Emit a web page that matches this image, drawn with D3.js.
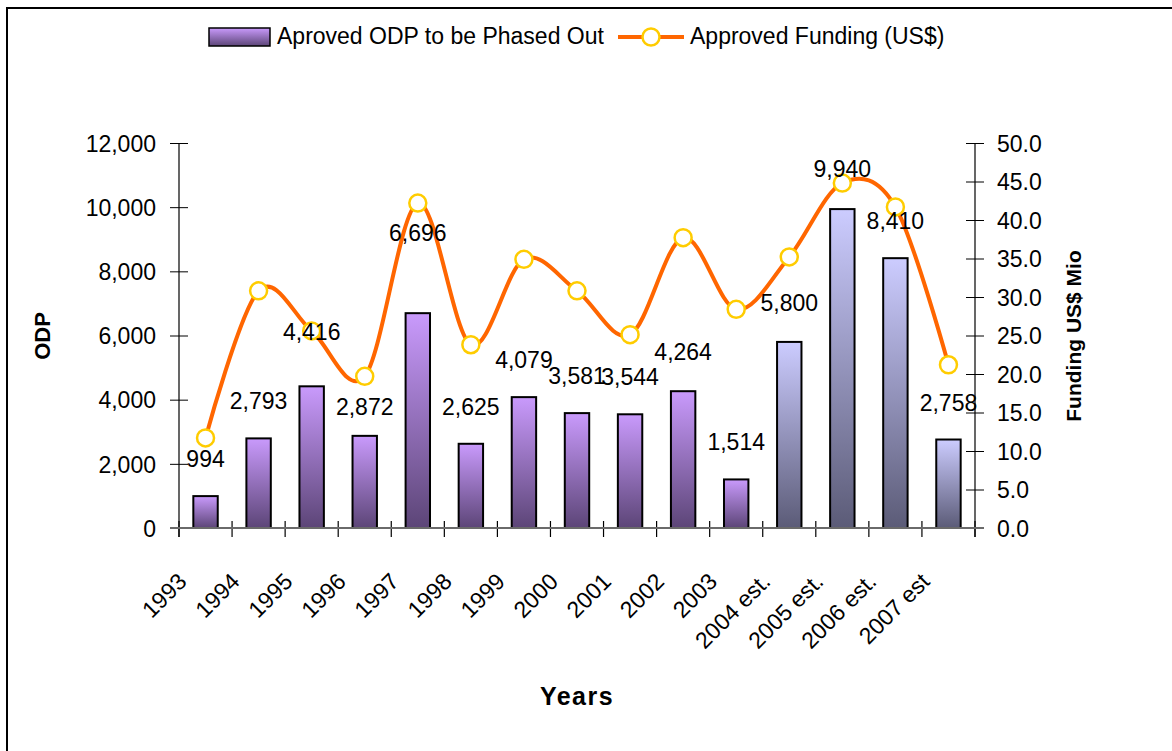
<!DOCTYPE html>
<html>
<head>
<meta charset="utf-8">
<script src="https://cdn.jsdelivr.net/npm/d3@7"></script>
<style>
	body { margin: 0; background: #fff; }
	text { font-family: "Liberation Sans", Arial, sans-serif; fill: #000; }
</style>
</head>
<body>
<div id="chart"></div>
<script>
// DATA ------------------------------------------------------------
var years = ["1993", "1994", "1995", "1996", "1997", "1998", "1999", "2000",
	"2001", "2002", "2003", "2004 est.", "2005 est.", "2006 est.", "2007 est"];
var odp = [994, 2793, 4416, 2872, 6696, 2625, 4079, 3581, 3544, 4264, 1514, 5800, 9940, 8410, 2758];
var funding = [11.7, 30.8, 25.6, 19.7, 42.2, 23.8, 34.9, 30.8, 25.1, 37.7, 28.4, 35.2, 44.8, 41.7, 21.2];
var estimated = [false, false, false, false, false, false, false, false, false, false, false, true, true, true, true];
var odpTicks = [0, 2000, 4000, 6000, 8000, 10000, 12000];
var fundTicks = [0, 5, 10, 15, 20, 25, 30, 35, 40, 45, 50];

// label nudges (px), the reference moved a few labels by hand
var labelShift = [0, 0, -17, 8, -43, 0, 0, 0, 0, -2, 0, -2, -3, 0, 0];

// SVG VARIABLES ------------------------------------------------------------
var width = 1172, height = 751;
var plot = {left: 179, right: 975, top: 143, bottom: 528};

var colors = {
	'line': '#ff6600',
	'marker': '#ffcc00',
	'axis': '#000000'
};

var svg = d3.select("#chart")
	.append("svg")
	.attr("width", width)
	.attr("height", height);

// gradients for the bars
var defs = svg.append("defs");
function addGradient(id, top, bottom) {
	var g = defs.append("linearGradient")
		.attr("id", id)
		.attr("x1", 0).attr("y1", 0)
		.attr("x2", 0).attr("y2", 1);
	g.append("stop").attr("offset", "0%").attr("stop-color", top);
	g.append("stop").attr("offset", "100%").attr("stop-color", bottom);
}
addGradient("gradPurple", "#c99afc", "#5c4577");
addGradient("gradBlue", "#ccccff", "#5b5b77");

// frame
svg.append("rect")
	.attr("x", 7).attr("y", 8)
	.attr("width", 1200).attr("height", 800)
	.style("fill", "none")
	.style("stroke", "#000")
	.style("stroke-width", 2);

// SCALES ------------------------------------------------------------
var xBand = d3.scaleBand()
	.domain(years)
	.range([plot.left, plot.right]);

var x = d3.scaleBand()
	.domain(years)
	.range([plot.left, plot.right])
	.paddingInner(0.54)
	.paddingOuter(0.27);

var yLeft = d3.scaleLinear()
	.domain([0, 12000])
	.range([plot.bottom, plot.top]);

var yRight = d3.scaleLinear()
	.domain([0, 50])
	.range([plot.bottom, plot.top]);

// AXES ------------------------------------------------------------
var leftAxis = d3.axisLeft(yLeft)
	.tickValues(odpTicks)
	.tickFormat(d3.format(","))
	.tickSizeInner(9)
	.tickSizeOuter(0)
	.tickPadding(14);

var gLeft = svg.append("g")
	.attr("transform", "translate(" + plot.left + ",0)")
	.call(leftAxis);

var rightAxis = d3.axisRight(yRight)
	.tickValues(fundTicks)
	.tickFormat(d3.format(".1f"))
	.tickSizeInner(9)
	.tickSizeOuter(0)
	.tickPadding(13);

var gRight = svg.append("g")
	.attr("transform", "translate(" + plot.right + ",0)")
	.call(rightAxis);

[gLeft, gRight].forEach(function(g) {
	g.select(".domain").remove();
	g.selectAll("text")
		.style("font-size", "23px")
		.attr("dy", "0.36em");
	g.selectAll(".tick line")
		.attr("x1", function() { return -d3.select(this).attr("x2"); })
		.style("stroke", colors.axis);
});

// axis lines
svg.append("line")
	.attr("x1", plot.left).attr("x2", plot.left)
	.attr("y1", plot.top).attr("y2", plot.bottom + 9)
	.style("stroke", "#000").style("stroke-width", 1.2);
svg.append("line")
	.attr("x1", plot.right).attr("x2", plot.right)
	.attr("y1", plot.top).attr("y2", plot.bottom + 9)
	.style("stroke", "#000").style("stroke-width", 1.2);

// category ticks sit on the band edges
svg.selectAll(".xtick")
	.data(years.concat(["end"]))
	.enter()
	.append("line")
	.attr("class", "xtick")
	.attr("x1", function(d, i) { return plot.left + i * xBand.step(); })
	.attr("x2", function(d, i) { return plot.left + i * xBand.step(); })
	.attr("y1", plot.bottom - 7)
	.attr("y2", plot.bottom + 9)
	.style("stroke", "#000")
	.style("stroke-width", 1.2);

// BARS ------------------------------------------------------------
svg.selectAll(".bar")
	.data(odp)
	.enter()
	.append("rect")
	.attr("class", "bar")
	.attr("x", function(d, i) { return x(years[i]); })
	.attr("y", function(d) { return yLeft(d); })
	.attr("width", x.bandwidth())
	.attr("height", function(d) { return yLeft(0) - yLeft(d); })
	.style("fill", function(d, i) { return estimated[i] ? "url(#gradBlue)" : "url(#gradPurple)"; })
	.style("stroke", "#000")
	.style("stroke-width", 2);

// x axis line over the bar bottoms
svg.append("line")
	.attr("x1", plot.left - 9).attr("x2", plot.right + 9)
	.attr("y1", plot.bottom).attr("y2", plot.bottom)
	.style("stroke", "#6a6a6a")
	.style("stroke-width", 2);

// LINE ------------------------------------------------------------
var line = d3.line()
	.x(function(d, i) { return x(years[i]) + x.bandwidth() / 2; })
	.y(function(d) { return yRight(d); })
	.curve(d3.curveCardinal.tension(0));

svg.append("path")
	.datum(funding)
	.attr("d", line)
	.style("fill", "none")
	.style("stroke", colors.line)
	.style("stroke-width", 4)
	.style("stroke-linejoin", "round");

svg.selectAll(".marker")
	.data(funding)
	.enter()
	.append("circle")
	.attr("class", "marker")
	.attr("cx", function(d, i) { return x(years[i]) + x.bandwidth() / 2; })
	.attr("cy", function(d) { return yRight(d); })
	.attr("r", 8.5)
	.style("fill", "#fff")
	.style("stroke", colors.marker)
	.style("stroke-width", 2.5);

// DATA LABELS ------------------------------------------------------------
svg.selectAll(".vlabel")
	.data(odp)
	.enter()
	.append("text")
	.attr("class", "vlabel")
	.attr("x", function(d, i) { return x(years[i]) + x.bandwidth() / 2; })
	.attr("y", function(d, i) { return yLeft(d) - 37 + labelShift[i] + 8; })
	.attr("text-anchor", "middle")
	.style("font-size", "23px")
	.text(function(d) { return d3.format(",")(d); });

// category labels, rotated
svg.selectAll(".xlabel")
	.data(years)
	.enter()
	.append("text")
	.attr("class", "xlabel")
	.attr("text-anchor", "end")
	.attr("transform", function(d, i) {
		return "translate(" + (plot.left + i * xBand.step() + 9) + ",583) rotate(-45)";
	})
	.style("font-size", "23px")
	.text(function(d) { return d; });

// TITLES ------------------------------------------------------------
svg.append("text")
	.attr("x", 577).attr("y", 705)
	.attr("text-anchor", "middle")
	.style("font-size", "25px")
	.style("font-weight", "bold")
	.style("letter-spacing", "1.5px")
	.text("Years");

svg.append("text")
	.attr("transform", "translate(50,336) rotate(-90)")
	.attr("text-anchor", "middle")
	.style("font-size", "22px")
	.style("font-weight", "bold")
	.text("ODP");

svg.append("text")
	.attr("transform", "translate(1081,336) rotate(-90)")
	.attr("text-anchor", "middle")
	.style("font-size", "21px")
	.style("font-weight", "bold")
	.text("Funding US$ Mio");

// LEGEND ------------------------------------------------------------
var legend = svg.append("g");

legend.append("rect")
	.attr("x", 209).attr("y", 28)
	.attr("width", 61).attr("height", 18)
	.style("fill", "url(#gradPurple)")
	.style("stroke", "#000")
	.style("stroke-width", 1.5);

legend.append("text")
	.attr("x", 277).attr("y", 44)
	.style("font-size", "23px")
	.text("Aproved ODP to be Phased Out");

legend.append("line")
	.attr("x1", 618).attr("x2", 684)
	.attr("y1", 37).attr("y2", 37)
	.style("stroke", colors.line)
	.style("stroke-width", 4);

legend.append("circle")
	.attr("cx", 651).attr("cy", 37)
	.attr("r", 8.5)
	.style("fill", "#fff")
	.style("stroke", colors.marker)
	.style("stroke-width", 2.5);

legend.append("text")
	.attr("x", 690).attr("y", 44)
	.style("font-size", "23px")
	.text("Approved Funding (US$)");
</script>
</body>
</html>
